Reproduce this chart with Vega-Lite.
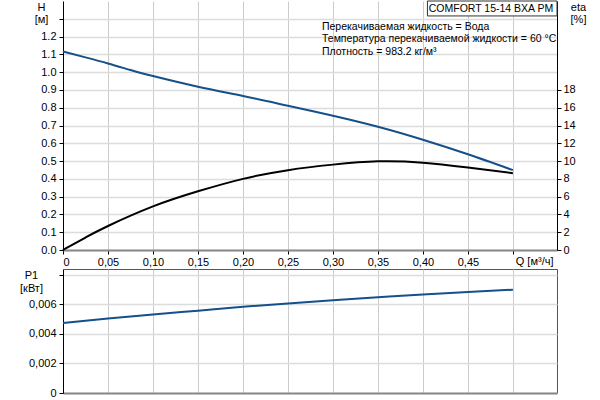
{
  "$schema": "https://vega.github.io/schema/vega-lite/v6.json",
  "autosize": {"type": "pad"},
  "padding": {"left": 19, "top": 0, "right": 14, "bottom": 8},
  "background": "white",
  "config": {
    "font": "Liberation Sans",
    "view": {"stroke": null},
    "axis": {
      "labelFont": "Liberation Sans", "labelFontSize": 11, "labelColor": "#000",
      "titleFont": "Liberation Sans", "titleFontSize": 11, "titleFontWeight": "normal", "titleColor": "#000",
      "tickColor": "#000", "domainColor": "#000", "tickSize": 4
    },
    "text": {"font": "Liberation Sans", "fontSize": 10.5, "color": "#000"}
  },
  "datasets": {
    "h": [
      {"q": 0, "h": 1.116}, {"q": 0.025, "h": 1.083}, {"q": 0.05, "h": 1.049}, {"q": 0.075, "h": 1.012},
      {"q": 0.1, "h": 0.978}, {"q": 0.15, "h": 0.918}, {"q": 0.2, "h": 0.866}, {"q": 0.25, "h": 0.811},
      {"q": 0.3, "h": 0.755}, {"q": 0.35, "h": 0.693}, {"q": 0.4, "h": 0.62}, {"q": 0.45, "h": 0.538},
      {"q": 0.5, "h": 0.449}
    ],
    "eta": [
      {"q": 0, "eta": 0}, {"q": 0.025, "eta": 1.4}, {"q": 0.05, "eta": 2.7}, {"q": 0.1, "eta": 4.9},
      {"q": 0.15, "eta": 6.6}, {"q": 0.2, "eta": 8.0}, {"q": 0.25, "eta": 8.98}, {"q": 0.3, "eta": 9.6},
      {"q": 0.35, "eta": 9.97}, {"q": 0.4, "eta": 9.82}, {"q": 0.45, "eta": 9.27},
      {"q": 0.5, "eta": 8.64}
    ],
    "p1": [
      {"q": 0, "p": 0.00475}, {"q": 0.05, "p": 0.00504}, {"q": 0.1, "p": 0.00532}, {"q": 0.15, "p": 0.00558},
      {"q": 0.2, "p": 0.00584}, {"q": 0.25, "p": 0.00607}, {"q": 0.3, "p": 0.00628}, {"q": 0.35, "p": 0.00648},
      {"q": 0.4, "p": 0.00668}, {"q": 0.45, "p": 0.00685}, {"q": 0.5, "p": 0.007}
    ]
  },
  "spacing": 19,
  "bounds": "flush",
  "vconcat": [
    {
      "width": 494,
      "height": 249,
      "layer": [
        {
          "data": {"name": "h"},
          "mark": {"type": "line", "color": "#15508a", "strokeWidth": 2, "interpolate": "natural"},
          "encoding": {
            "x": {
              "field": "q", "type": "quantitative",
              "scale": {"domain": [0, 0.549], "nice": false, "zero": false},
              "axis": {
                "values": [0, 0.05, 0.1, 0.15, 0.2, 0.25, 0.3, 0.35, 0.4, 0.45, 0.5],
                "labelExpr": "datum.value > 0.49 ? '' : (datum.value == 0 ? '0' : replace(format(datum.value, '.2f'), '.', ','))",
                "labelPadding": 2,
                "gridColor": "#cccccc", "gridWidth": 1,
                "domainColor": "#888888", "domainWidth": 2,
                "title": "Q [м³/ч]",
                "titleAlign": "right", "titleBaseline": "middle", "titleAnchor": null,
                "titleX": 490, "titleY": 11
              }
            },
            "y": {
              "field": "h", "type": "quantitative",
              "scale": {"domain": [0, 1.4], "nice": false},
              "axis": {
                "values": [0, 0.1, 0.2, 0.3, 0.4, 0.5, 0.6, 0.7, 0.8, 0.9, 1.0, 1.1, 1.2, 1.3],
                "labelExpr": "datum.value > 1.25 ? '' : format(datum.value, '.1f')",
                "labelPadding": 3,
                "gridColor": "#dcdcdc", "gridWidth": 1.5,
                "title": ["H", "[м]"],
                "titleAngle": 0, "titleAlign": "center", "titleBaseline": "top",
                "titleX": -22, "titleY": 0, "titleLineHeight": 12
              }
            }
          }
        },
        {
          "data": {"name": "eta"},
          "mark": {"type": "line", "color": "#000000", "strokeWidth": 2, "interpolate": "natural"},
          "encoding": {
            "x": {"field": "q", "type": "quantitative"},
            "y": {
              "field": "eta", "type": "quantitative",
              "scale": {"domain": [0, 28], "nice": false},
              "axis": {
                "orient": "right",
                "values": [0, 2, 4, 6, 8, 10, 12, 14, 16, 18],
                "grid": false,
                "labelPadding": 2,
                "title": ["eta", "[%]"],
                "titleAngle": 0, "titleAlign": "center", "titleBaseline": "top",
                "titleX": 21, "titleY": 0, "titleLineHeight": 12
              }
            }
          }
        },
        {
          "data": {"values": [{"label": "COMFORT 15-14 BXA PM"}]},
          "mark": {"type": "rect", "fill": "white", "stroke": "#333333", "strokeWidth": 1},
          "encoding": {
            "x": {"datum": 0.405, "type": "quantitative"},
            "x2": {"datum": 0.549},
            "y": {"datum": 1.4, "type": "quantitative", "scale": {"domain": [0, 1.4], "nice": false}, "axis": null},
            "y2": {"datum": 1.316}
          }
        },
        {
          "data": {"values": [{"label": "COMFORT 15-14 BXA PM"}]},
          "mark": {"type": "text", "align": "center", "baseline": "middle"},
          "encoding": {
            "x": {"datum": 0.4756, "type": "quantitative"},
            "y": {"datum": 1.356, "type": "quantitative", "scale": {"domain": [0, 1.4], "nice": false}, "axis": null},
            "text": {"field": "label"}
          }
        },
        {
          "data": {"values": [{"l1": "Перекачиваемая жидкость = Вода"}]},
          "mark": {"type": "text", "align": "left", "baseline": "top", "lineHeight": 12.5},
          "encoding": {
            "x": {"datum": 0.2878, "type": "quantitative"},
            "y": {"datum": 1.283, "type": "quantitative", "scale": {"domain": [0, 1.4], "nice": false}, "axis": null},
            "text": {"value": ["Перекачиваемая жидкость = Вода", "Температура перекачиваемой жидкости = 60 °C", "Плотность = 983.2 кг/м³"]}
          }
        }
      ],
      "resolve": {"scale": {"y": "independent"}}
    },
    {
      "width": 494,
      "height": 124,
      "view": {"stroke": "#555555"},
      "data": {"name": "p1"},
      "mark": {"type": "line", "color": "#15508a", "strokeWidth": 2, "interpolate": "natural"},
      "encoding": {
        "x": {
          "field": "q", "type": "quantitative",
          "scale": {"domain": [0, 0.549], "nice": false, "zero": false},
          "axis": {
            "values": [0, 0.05, 0.1, 0.15, 0.2, 0.25, 0.3, 0.35, 0.4, 0.45, 0.5],
            "labels": false, "ticks": false, "title": null,
            "gridColor": "#cccccc", "gridWidth": 1,
            "domainColor": "#888888", "domainWidth": 2
          }
        },
        "y": {
          "field": "p", "type": "quantitative",
          "scale": {"domain": [0, 0.0084], "nice": false},
          "axis": {
            "values": [0, 0.002, 0.004, 0.006, 0.008],
            "labelExpr": "datum.value > 0.007 ? '' : (datum.value == 0 ? '0' : replace(format(datum.value, '.3f'), '.', ','))",
            "labelPadding": 3,
            "gridColor": "#dcdcdc", "gridWidth": 1.5,
            "title": ["P1", "[кВт]"],
            "titleAngle": 0, "titleAlign": "center", "titleBaseline": "top",
            "titleX": -32, "titleY": 0, "titleLineHeight": 13
          }
        }
      }
    }
  ]
}
